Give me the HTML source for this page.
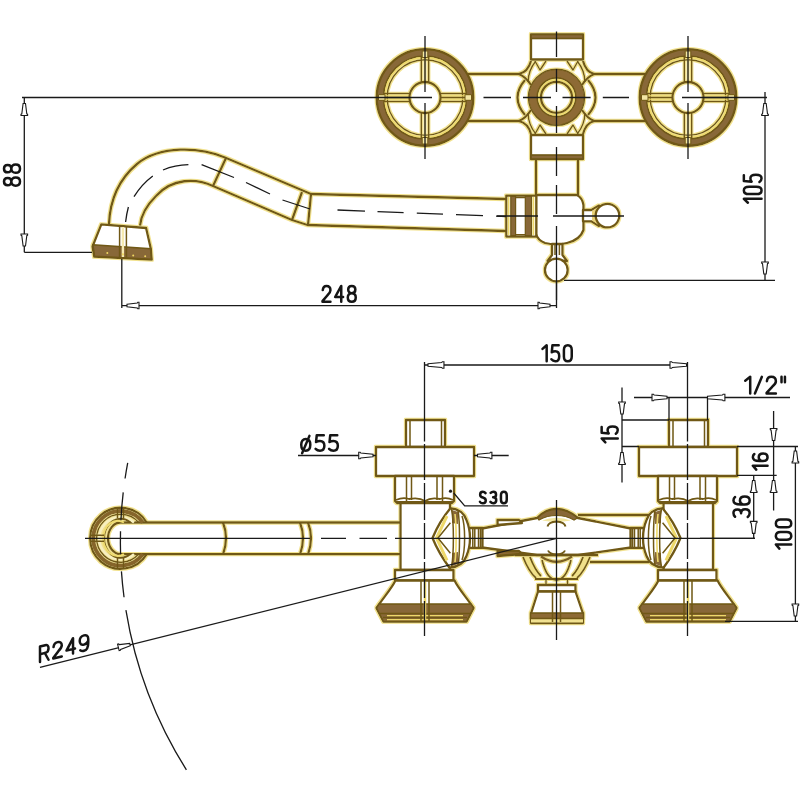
<!DOCTYPE html>
<html><head><meta charset="utf-8"><style>
html,body{margin:0;padding:0;background:#fff;}
svg{display:block;}
.g{fill:none;stroke:#6f5814;stroke-width:2.3;stroke-linejoin:round;}
.gf{fill:#fff;stroke:#6f5814;stroke-width:2.3;stroke-linejoin:round;}
.t{stroke-width:1.5;}
.y{fill:none;stroke:#eed96a;stroke-width:1.4;}
.b{fill:#8d6a34;stroke:#6f5814;stroke-width:1.5;}
.k{fill:none;stroke:#1a1a1a;stroke-width:1.3;}
.kd{fill:none;stroke:#1a1a1a;stroke-width:1.3;stroke-dasharray:27 12;}
.ar{fill:#fff;stroke:#1a1a1a;stroke-width:1.1;vector-effect:non-scaling-stroke;}
.tx path{fill:none;stroke:#151515;stroke-width:2.5;vector-effect:non-scaling-stroke;stroke-linecap:round;stroke-linejoin:round;}
</style></head><body>
<svg width="800" height="800" viewBox="0 0 800 800">
<rect width="800" height="800" fill="#fff"/>
<defs>
 <filter id="halo" x="0" y="0" width="800" height="800" filterUnits="userSpaceOnUse">
  <feMorphology in="SourceAlpha" operator="dilate" radius="0.7" result="d"/>
  <feFlood flood-color="#f2e28e"/>
  <feComposite in2="d" operator="in" result="h"/>
  <feMerge><feMergeNode in="h"/><feMergeNode in="SourceGraphic"/></feMerge>
 </filter>
 <g id="handle">
  <circle r="45" style="fill:none;stroke:#886739;stroke-width:7"/>
  <circle r="48.3" class="g"/>
  <circle r="41.5" class="g t"/>
  <circle r="40" class="y"/>
  <circle r="37.8" class="g t"/>
  <path class="g t" d="M-3.7,-15V-41M3.7,-15V-41M-3.7,15V41M3.7,15V41M-15,-3.9H-41M-15,3.9H-41M15,-3.9H41M15,3.9H41"/>
  <path class="y" d="M0,-16V-40M0,16V40M-16,-1.6H-40M16,-1.6H40M-16,1.6H-40M16,1.6H40" style="stroke-width:1.2"/>
  <path d="M-16,0H-40M16,0H40" style="stroke:#6f5814;stroke-width:1.3"/>
  <circle r="15.5" class="g"/>
  <path d="M-2.8,-46.5H2.8V-40H-2.8ZM-2.8,46.5H2.8V40H-2.8ZM-46.5,-2.8V2.8H-40V-2.8ZM46.5,-2.8V2.8H40V-2.8Z" style="fill:#f3e6a4;stroke:#6f5814;stroke-width:1"/>
 </g>
 <g id="tap">
  <rect x="-19" y="420" width="39" height="27" class="gf"/>
  <path class="g t" d="M-15,421V446M16.5,421V446"/>
  <rect x="-49" y="447" width="98" height="29" class="gf"/>
  <path class="gf" d="M-30,476H29V501L27,503H-28L-30,501Z"/>
  <path class="g" d="M-29,502H28M-29,500Q-22,497 -16,499Q-6,497 0,501Q6,497 15,499Q22,497 28,500" style="stroke-width:1.8"/>
  <path class="g t" d="M-18.5,477V502M-13.5,477V500M12,477V500M17.5,477V502"/>
  <rect x="-24.5" y="503" width="49.5" height="67" class="gf"/>
  <rect x="-30" y="570" width="58.5" height="10.5" class="gf"/>
  <path class="gf" d="M-29.6,580.5H29.6C33,588 42,598 48.5,608L41.5,621.5H-41.5L-48.5,608C-42,598 -33,588 -29.6,580.5Z"/>
  <path d="M-46,603.9H46L48.5,608L41.5,621.5H-41.5L-48.5,608Z" style="fill:#886739;stroke:#6f5814;stroke-width:1.5"/>
  <path class="g t" d="M-45.5,613.5H45.5M-42,617.6H42"/>
  <path class="y" d="M-38,615.6H38M-38,619.7H38" style="stroke-width:1.3"/>
  <path class="g t" d="M-4,581V621M4,581V621"/>
  <path class="y" d="M0,582V620" style="stroke-width:2.5"/>
 </g>
 <g id="lever">
  <path class="gf" d="M-44,528H-57.4V547.8H-44Z"/>
  <path class="g t" d="M-55.5,529V547M-53.5,529V547M-49.8,529V547M-47.8,529V547"/>
  <path class="gf" d="M-25.4,508.2C-18,517 -12,527 -7.5,538C-12,549 -18,559 -24.5,567.7C-33,567 -39,563 -41.5,556C-44,550 -45,545 -45,538C-45,531 -44,526 -41.5,520C-39,513 -33,509 -25.4,508.2Z"/>
  <path class="y" d="M-22,516L-11.5,538L-22,560.5" style="stroke-width:3"/>
  <path class="g t" d="M-25.4,522.7L-13,538L-25.4,553.3"/>
  <path d="M-27,510L-33,512L-33,524L-27,523ZM-27,566L-33,564L-33,552L-27,553Z" style="fill:#886739;stroke:none"/>
  <path class="g t" d="M-26.5,509C-29,522 -29,554 -26.5,567M-33,510.5C-35,522 -35,554 -33,566"/>
  <path class="y" d="M-30,514C-31.5,526 -31.5,550 -30,562" style="stroke-width:1.6"/>
  <path class="g t" d="M-37,516C-40.5,526 -40.5,550 -37,560"/>
 </g>
 <path id="arw" vector-effect="non-scaling-stroke" d="M0,-1.2L10.3,-2.5L10.8,-3.3H12V3.3H10.8L10.3,2.5L0,1.2Z"/>
</defs>

<g filter="url(#halo)">
<!-- ============ TOP VIEW (gold) ============ -->
 <path class="g" d="M468,74H521M468,121H521M592,74H645M592,121H645"/>
 <use href="#handle" x="425" y="97.5"/>
 <use href="#handle" x="688" y="97.5"/>

 <!-- hub -->
 <rect x="531" y="34.5" width="52" height="25" class="gf"/>
 <rect x="531" y="34.5" width="52" height="4" style="fill:#886739;stroke:#6f5814;stroke-width:1.6"/>
 <rect x="531" y="135" width="52" height="24" class="gf"/>
 <rect x="531" y="155" width="52" height="4" style="fill:#886739;stroke:#6f5814;stroke-width:1.6"/>
 <path class="g" d="M531,61Q528,72 519,74Q526,77 531,85M583,61Q586,72 594,74Q587,77 582,85M531,134Q528,123 519,121Q526,118 531,110M583,134Q586,123 594,121Q587,118 582,110"/>
 <path class="g" d="M525,80Q510,97.5 525,115M588,80Q603,97.5 588,115"/>
 <path class="g t" d="M535,61L540,70L546,61M567,61L573,70L578,61M535,134L540,125L546,134M567,134L573,125L578,134"/>
 <path class="g t" d="M535.5,61.5Q528.5,70 528,82M577.5,61.5Q584.5,70 585,82M535.5,133.5Q528.5,125 528,113M577.5,133.5Q584.5,125 585,113"/>
 <circle cx="556.5" cy="97.3" r="23.5" style="fill:none;stroke:#8d6a34;stroke-width:8.5"/>
 <circle cx="556.5" cy="97.3" r="28" class="g t"/>
 <circle cx="556.5" cy="97.3" r="19.3" class="g t"/>
 <circle cx="556.5" cy="97.3" r="17.5" class="y"/>
 <circle cx="556.5" cy="97.3" r="15.5" class="g"/>

 <!-- stem + body -->
 <path class="g" d="M536,159V195M578,159V195"/>
 <path class="gf" d="M536,195H577Q582.5,198 583.5,205V230Q580,240 567,243Q556,245.5 545,243Q537.5,240 536,234Z"/>
 <rect x="506.3" y="195.6" width="30" height="41" class="gf"/>
 <path d="M510.8,196.5H515.6V235.5H510.8ZM525.3,196.5H531.5V235.5H525.3Z" style="fill:#886739;stroke:#6f5814;stroke-width:1.2"/>
 <path class="y" d="M508.6,197V235M533.4,197V235" style="stroke-width:1.8"/>
 <path class="g t" d="M515.6,197.6H525.3M515.6,234.8H525.3"/>
 <path class="gf" d="M583,210H591.3L599,205.5V226L591.3,221.3H583Z"/>
 <path d="M592,211L598,207V224.5L592,220.5Z" style="fill:#e9d27a;stroke:none"/>
 <circle cx="607.5" cy="215.6" r="11.8" class="gf"/>
 <path class="gf" d="M552,244H562.5V255L567,261H547.5L552,255Z"/>
 <path class="g t" d="M555,245V255M559.4,245V255"/>
 <circle cx="556.3" cy="270" r="11.4" class="gf"/>

 <!-- spout -->
 <path class="g" d="M506,199L311,194L225,157.5C200,147 160,145 137,164C118,180 110,200 109,224"/>
 <path class="g" d="M506,231L307.5,225L292,220L213,186C196,178 172,178 156,196C146,206 141,215 140,225.6"/>
 <path class="g" d="M226,158L213,186M302,192L292,220M311,194L308,225"/>
 <path class="gf" d="M101.3,224.3L146.1,228L150.8,248.6L151.7,259.5L94.3,256.7L92.5,246.5Z"/>
 <path d="M92.8,244.7L150.6,248.8L151.4,259.2L94.5,256.4Z" style="fill:#886739;stroke:#6f5814;stroke-width:1.6"/>
 <path class="y" d="M122.9,227V257" style="stroke:#f6eab0;stroke-width:2.4"/>
 <path class="g t" d="M119.6,226V257.5M126.4,226.5V258"/>
 <g fill="#f0d860"><circle cx="107.3" cy="253" r="1"/><circle cx="122.9" cy="254.3" r="1.1"/><circle cx="133.2" cy="255.5" r="1"/><circle cx="145.2" cy="256.2" r="1"/></g>

<!-- ============ FRONT VIEW (gold) ============ -->
 <use href="#tap" x="425"/>
 <use href="#tap" x="688"/>

 <!-- left pipe -->
 <path class="g" d="M400,522.5H120.6A12.6,15.8 0 0 0 120.6,554.1H400"/>
 <path class="g" d="M223,522.5Q229,538 223,554.5M300,522.5Q306,538 300,554.5M308,522.5Q314,538 308,554.5"/>
 <!-- ring -->
 <path d="M142.8,522.5A27.3,27.3 0 1 0 142.8,554.1" style="fill:none;stroke:#86652c;stroke-width:4"/>
 <path class="g" d="M146.7,522.5A30.5,30.5 0 1 0 146.7,554.1"/>
 <path class="g t" d="M138.7,522.5A24,24 0 1 0 138.7,554.1"/>
 <path class="y" d="M134,522.5A21,21 0 1 0 134,554.1" style="stroke:#f7efc0;stroke-width:2.5"/>
 <path class="g" d="M130.3,522.5A16.5,19.5 0 1 0 130.3,554.1" style="stroke-width:2"/>
 <path class="y" d="M124,522.5A14.5,17.5 0 1 0 124,554.1" style="stroke:#efdc70;stroke-width:2"/>
 <path class="g t" d="M117.5,508V518.5M123.5,508V518.5M117.5,558V569M123.5,558V569M90,535.3H104M90,541.3H104"/>
 <!-- center bar -->
 <path class="gf" d="M482,528.5L537,518Q546,509 556.5,509Q567,509 578,518L631,528.5V547.5L578,555H537L482,547.5Z"/>
 <path class="gf" d="M497.5,520H519L522,523L497.5,525Z"/>
 <path class="gf" d="M497.5,551H519L522,554L497.5,556Z" style="fill:#8d6a34"/>
 <path class="g" d="M578,515H649M590,562H649"/>
 <path d="M537.5,518Q546,509.5 556.5,509.5Q567,509.5 577.5,518L574,520Q566,515.5 556.5,515.5Q547,515.5 539,520Z" style="fill:#886739;stroke:#6f5814;stroke-width:1.2"/>
 <path d="M542,520.5Q556.5,515 571,520.5Q556.5,523 542,520.5Z" style="fill:#f3e7a0;stroke:none"/>
 <path class="g" d="M547.5,526.5Q548.5,522 556.5,521.5Q564.5,522 565.5,526.5M548,550.5Q549.5,554 556.5,554.5Q563.5,554 565,550.5" style="stroke-width:1.9"/>
 <path d="M541,556.5Q556.5,567 572,556.5" style="fill:none;stroke:#7d6020;stroke-width:2.6"/>
 <!-- arch + center bell -->
 <path class="g" d="M515,555H598"/>
 <path d="M524,557Q530,571 537,578L541,576Q535,569 530,557ZM589,557Q583,571 576,578L572,576Q578,569 583,557Z" style="fill:#f0e08a;stroke:none"/>
 <path class="g" d="M523,557Q529,572 536,578M530,557Q535,570 541,576M542,560Q547,580 556.5,580Q566,580 571,560M590,557Q584,572 577,578M583,557Q578,570 572,576M535,579H578" style="stroke-width:1.8"/>
 <path class="g t" d="M546,579V585M567.5,579V585"/>
 <rect x="538" y="585" width="37.5" height="6.5" class="gf"/>
 <path class="gf" d="M538,591.5H575.5L583,613.5V623H531V613.5Z"/>
 <path d="M531,618.5H583V622.5H531Z" style="fill:#f1e190;stroke:none"/>
 <path class="b" d="M530.5,613H583.5V618.5H530.5Z"/>
 <path class="g t" d="M552.5,592V622M560.5,592V622"/>

 <!-- levers -->
 <use href="#lever" transform="translate(425,0) scale(-1,1)"/>
 <use href="#lever" transform="translate(688,0)"/>
</g>

<!-- ============ BLACK LINES ============ -->
<g>
 <!-- top view dims -->
 <path class="k" d="M22,97.5H432M24.3,97.5V252.3M24.3,252.3H92M740,97.5H767M765,92V280M564,280.3H775M121.8,259V308M121.8,305.7H556M556.5,282V308"/>
 <use href="#arw" class="ar" transform="translate(24.3,103.5) rotate(90)"/>
 <use href="#arw" class="ar" transform="translate(24.3,246) rotate(-90)"/>
 <use href="#arw" class="ar" transform="translate(765,103.5) rotate(90)"/>
 <use href="#arw" class="ar" transform="translate(765,274) rotate(-90)"/>
 <use href="#arw" class="ar" transform="translate(127,305.5)"/>
 <use href="#arw" class="ar" transform="translate(550,305.5) rotate(180)"/>

 <path class="k" d="M483.5,97.5H511M523,97.5H551M562.5,97.5H590.6M602.8,97.5H629M682,97.5H740"/>
 <path class="k" d="M425,36V92M425,103V159M688,36V92M688,103V159M556.5,31.5V57M556.5,69V92M556.5,106V133M556.5,147V176M556.5,185V214M556.5,226V300M497,216H538M553,216H624"/>
 <path class="k" d="M125.6,222Q126.5,214 128.4,207M134,196.6Q142,184 152.8,176M163,170Q175,165 188.4,164.7M201.6,164.7L234,177.5M246,182.5L270,194M282.5,200L310,209M337.5,210L365,211.1M377.5,211.6L403.6,212.6M416.8,213.1L443,214.1M456,214.6L483,215.6M496,216.1L506,216.5"/>

 <!-- front view -->
 <path class="k" d="M424.5,362V441.5M424.5,444V480M424.5,483V520M424.5,523V559M424.5,562V598M424.5,601V636M687.5,362V441.5M687.5,444V480M687.5,483V520M687.5,523V559M687.5,562V598M687.5,601V636M424.5,365H687.5"/>
 <use href="#arw" class="ar" transform="translate(428,365) scale(1.33,1)"/>
 <use href="#arw" class="ar" transform="translate(686.5,365) rotate(180) scale(1.375,1)"/>

 <path class="k" d="M85,538.3H310M321,538.3H346M359.5,538.3H387M395,538.3H755"/>
 <path class="k" d="M556.5,500V640"/>
 
 <path class="k" d="M298,455.5H376M474,455.5H508.7"/>
 <use href="#arw" class="ar" transform="translate(373,455.5) rotate(180) scale(1.19,1)"/>
 <use href="#arw" class="ar" transform="translate(477.5,455.5) scale(1.2,1)"/>

 <path class="k" d="M634,397.5H790M669,397.5V420M707.5,397.5V420"/>
 <use href="#arw" class="ar" transform="translate(667,397.5) rotate(180) scale(1.25,1)"/>
 <use href="#arw" class="ar" transform="translate(707.5,397.5) scale(1.45,1)"/>

 <path class="k" d="M622,387.5V482.5M622,420H669M622,446.5H639"/>
 <use href="#arw" class="ar" transform="translate(622,414) rotate(-90)"/>
 <use href="#arw" class="ar" transform="translate(622,452.5) rotate(90)"/>

 <path class="k" d="M773.6,411V510.4M737,446.5H798M737,475.3H776.7"/>
 <use href="#arw" class="ar" transform="translate(773.6,440.5) rotate(-90)"/>
 <use href="#arw" class="ar" transform="translate(773.6,480.5) rotate(90)"/>

 <path class="k" d="M753.7,475.3V538.4M700,538.4H755"/>
 <use href="#arw" class="ar" transform="translate(753.7,480.5) rotate(90)"/>
 <use href="#arw" class="ar" transform="translate(753.7,533.4) rotate(-90)"/>

 <path class="k" d="M795.4,446.5V621.3M725,621.3H798"/>
 <use href="#arw" class="ar" transform="translate(795.4,451) rotate(90)"/>
 <use href="#arw" class="ar" transform="translate(795.4,616) rotate(-90)"/>

 <path class="k" d="M453.7,493L464.7,505.8H508"/>
 <circle cx="450.5" cy="491.2" r="1.6" fill="#1a1a1a"/>

 <path class="k" d="M40,667.4L556.5,538.3"/>
 <use href="#arw" class="ar" transform="translate(130,644.5) rotate(165.9)"/>
 <path class="k" style="stroke-dasharray:16 14 28 11 23 17 26 13 400" d="M127.7,462.8A427.7,427.7 0 0 0 186.4,769.8"/>
</g>
<g class="tx">
<g transform="translate(321.25,284.7)"><path d="M0.2,2.6C0.4,1 1.5,0 3,0C4.8,0 6,1 6,2.7C6,4.2 5,5 3.6,6L0,9.6V10H6" transform="translate(1.25,1.25) scale(1.325,1.580)"/><path d="M4.6,10V0L0,7H6" transform="translate(13.90,1.25) scale(1.325,1.580)"/><path d="M3,4.6C1.3,4.6 0.3,3.7 0.3,2.3C0.3,0.9 1.4,0 3,0C4.6,0 5.7,0.9 5.7,2.3C5.7,3.7 4.7,4.6 3,4.6C1.1,4.6 0,5.6 0,7.3C0,9 1.3,10 3,10C4.7,10 6,9 6,7.3C6,5.6 4.9,4.6 3,4.6Z" transform="translate(26.55,1.25) scale(1.325,1.580)"/></g>
<g transform="translate(541.25,344.0)"><path d="M0,2.3L3.2,0V10" transform="translate(1.25,1.25) scale(1.306,1.600)"/><path d="M5.6,0H0.8L0.3,4.4C1,3.9 2,3.7 3,3.7C5,3.7 6,4.9 6,6.8C6,8.8 4.8,10 3,10C1.8,10 0.8,9.6 0,8.8" transform="translate(10.13,1.25) scale(1.306,1.600)"/><path d="M3,0C5,0 6,1 6,3V7C6,9 5,10 3,10C1,10 0,9 0,7V3C0,1 1,0 3,0Z" transform="translate(22.66,1.25) scale(1.306,1.600)"/></g>
<g transform="translate(299.4,434.0)"><path d="M3.5,2.4C5.4,2.4 6.6,3.8 6.6,6.2C6.6,8.6 5.4,10 3.5,10C1.6,10 0.4,8.6 0.4,6.2C0.4,3.8 1.6,2.4 3.5,2.4ZM6,0.4L1,11.6" transform="translate(1.25,1.25) scale(1.463,1.550)"/><path d="M5.6,0H0.8L0.3,4.4C1,3.9 2,3.7 3,3.7C5,3.7 6,4.9 6,6.8C6,8.8 4.8,10 3,10C1.8,10 0.8,9.6 0,8.8" transform="translate(16.19,1.25) scale(1.463,1.550)"/><path d="M5.6,0H0.8L0.3,4.4C1,3.9 2,3.7 3,3.7C5,3.7 6,4.9 6,6.8C6,8.8 4.8,10 3,10C1.8,10 0.8,9.6 0,8.8" transform="translate(29.67,1.25) scale(1.463,1.550)"/></g>
<g transform="translate(744.0,375.6)"><path d="M0,2.3L3.2,0V10" transform="translate(1.25,1.25) scale(1.550,1.665)"/><path d="M0,10L4.5,0" transform="translate(10.91,1.25) scale(1.550,1.665)"/><path d="M0.2,2.6C0.4,1 1.5,0 3,0C4.8,0 6,1 6,2.7C6,4.2 5,5 3.6,6L0,9.6V10H6" transform="translate(22.59,1.25) scale(1.550,1.665)"/><path d="M0.6,0V3.2M2.8,0V3.2" transform="translate(36.59,1.25) scale(1.550,1.665)"/></g>
<g transform="translate(478.7,490.5)"><path d="M5.8,1.2C5,0.4 4,0 3,0C1.3,0 0.2,0.9 0.2,2.5C0.2,4 1.3,4.6 3,5C4.8,5.4 6,6 6,7.5C6,9.1 4.8,10 3,10C1.8,10 0.7,9.6 0,8.8" transform="translate(1.25,1.25) scale(0.967,1.150)"/><path d="M0.2,1C1,0.3 2,0 3,0C4.8,0 5.8,1 5.8,2.5C5.8,3.9 4.7,4.7 2.8,4.7C4.9,4.7 6,5.7 6,7.2C6,9 4.8,10 3,10C1.8,10 0.8,9.6 0,8.8" transform="translate(11.75,1.25) scale(0.967,1.150)"/><path d="M3,0C5,0 6,1 6,3V7C6,9 5,10 3,10C1,10 0,9 0,7V3C0,1 1,0 3,0Z" transform="translate(22.25,1.25) scale(0.967,1.150)"/></g>
<g transform="translate(2.75,187.0) rotate(-90)"><path d="M3,4.6C1.3,4.6 0.3,3.7 0.3,2.3C0.3,0.9 1.4,0 3,0C4.6,0 5.7,0.9 5.7,2.3C5.7,3.7 4.7,4.6 3,4.6C1.1,4.6 0,5.6 0,7.3C0,9 1.3,10 3,10C4.7,10 6,9 6,7.3C6,5.6 4.9,4.6 3,4.6Z" transform="translate(1.25,1.25) scale(1.379,1.600)"/><path d="M3,4.6C1.3,4.6 0.3,3.7 0.3,2.3C0.3,0.9 1.4,0 3,0C4.6,0 5.7,0.9 5.7,2.3C5.7,3.7 4.7,4.6 3,4.6C1.1,4.6 0,5.6 0,7.3C0,9 1.3,10 3,10C4.7,10 6,9 6,7.3C6,5.6 4.9,4.6 3,4.6Z" transform="translate(14.23,1.25) scale(1.379,1.600)"/></g>
<g transform="translate(742.6,204.0) rotate(-90)"><path d="M0,2.3L3.2,0V10" transform="translate(1.25,1.25) scale(1.230,1.770)"/><path d="M3,0C5,0 6,1 6,3V7C6,9 5,10 3,10C1,10 0,9 0,7V3C0,1 1,0 3,0Z" transform="translate(9.89,1.25) scale(1.230,1.770)"/><path d="M5.6,0H0.8L0.3,4.4C1,3.9 2,3.7 3,3.7C5,3.7 6,4.9 6,6.8C6,8.8 4.8,10 3,10C1.8,10 0.8,9.6 0,8.8" transform="translate(21.97,1.25) scale(1.230,1.770)"/></g>
<g transform="translate(600.4,443.6) rotate(-90)"><path d="M0,2.3L3.2,0V10" transform="translate(1.25,1.25) scale(1.217,1.610)"/><path d="M5.6,0H0.8L0.3,4.4C1,3.9 2,3.7 3,3.7C5,3.7 6,4.9 6,6.8C6,8.8 4.8,10 3,10C1.8,10 0.8,9.6 0,8.8" transform="translate(9.85,1.25) scale(1.217,1.610)"/></g>
<g transform="translate(751.6,470.9) rotate(-90)"><path d="M0,2.3L3.2,0V10" transform="translate(1.25,1.25) scale(1.250,1.470)"/><path d="M5.6,1C4.9,0.3 4,0 3,0C1,0 0,1.6 0,4.6V7C0,9 1.2,10 3,10C4.8,10 6,9 6,7C6,5 4.8,4 3,4C1.5,4 0.5,4.8 0,5.8" transform="translate(9.95,1.25) scale(1.250,1.470)"/></g>
<g transform="translate(732.2,518.3) rotate(-90)"><path d="M0.2,1C1,0.3 2,0 3,0C4.8,0 5.8,1 5.8,2.5C5.8,3.9 4.7,4.7 2.8,4.7C4.9,4.7 6,5.7 6,7.2C6,9 4.8,10 3,10C1.8,10 0.8,9.6 0,8.8" transform="translate(1.25,1.25) scale(1.317,1.620)"/><path d="M5.6,1C4.9,0.3 4,0 3,0C1,0 0,1.6 0,4.6V7C0,9 1.2,10 3,10C4.8,10 6,9 6,7C6,5 4.8,4 3,4C1.5,4 0.5,4.8 0,5.8" transform="translate(13.85,1.25) scale(1.317,1.620)"/></g>
<g transform="translate(774.6,549.9) rotate(-90)"><path d="M0,2.3L3.2,0V10" transform="translate(1.25,1.25) scale(1.296,1.540)"/><path d="M3,0C5,0 6,1 6,3V7C6,9 5,10 3,10C1,10 0,9 0,7V3C0,1 1,0 3,0Z" transform="translate(10.10,1.25) scale(1.296,1.540)"/><path d="M3,0C5,0 6,1 6,3V7C6,9 5,10 3,10C1,10 0,9 0,7V3C0,1 1,0 3,0Z" transform="translate(22.57,1.25) scale(1.296,1.540)"/></g>
<g transform="translate(38.75,645.6) skewY(-14.2)"><path d="M0,10V0H3.7C5.2,0 6,1 6,2.5C6,4 5.2,5 3.7,5H0M3.4,5L6,10" transform="translate(1.25,1.25) scale(1.423,1.540)"/><path d="M0.2,2.6C0.4,1 1.5,0 3,0C4.8,0 6,1 6,2.7C6,4.2 5,5 3.6,6L0,9.6V10H6" transform="translate(14.49,1.25) scale(1.423,1.540)"/><path d="M4.6,10V0L0,7H6" transform="translate(27.73,1.25) scale(1.423,1.540)"/><path d="M0.4,9C1.1,9.7 2,10 3,10C5,10 6,8.4 6,5.4V3C6,1 4.8,0 3,0C1.2,0 0,1 0,3C0,5 1.2,6 3,6C4.5,6 5.5,5.2 6,4.2" transform="translate(40.96,1.25) scale(1.423,1.540)"/></g>
</g>
</svg>
</body></html>
